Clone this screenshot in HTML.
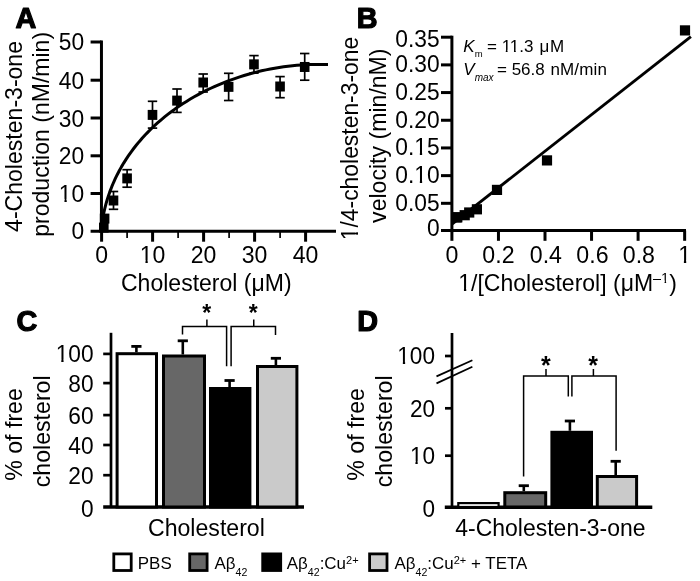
<!DOCTYPE html>
<html><head><meta charset="utf-8"><title>Figure</title>
<style>
html,body{margin:0;padding:0;background:#fff;}
svg{display:block;font-family:"Liberation Sans", sans-serif;fill:#000;}
</style></head><body>
<svg width="700" height="581" viewBox="0 0 700 581">
<rect x="0" y="0" width="700" height="581" fill="#fff"/>
<text x="15.4" y="27.75" font-size="28.8" font-weight="bold" stroke="#000" stroke-width="1.2" stroke-linejoin="round">A</text>
<text x="356.65" y="27.75" font-size="28.8" font-weight="bold" stroke="#000" stroke-width="1.2" stroke-linejoin="round">B</text>
<text x="16.6" y="330.9" font-size="28.8" font-weight="bold" stroke="#000" stroke-width="1.2" stroke-linejoin="round">C</text>
<text x="357.2" y="330.7" font-size="28.8" font-weight="bold" stroke="#000" stroke-width="1.2" stroke-linejoin="round">D</text>
<line x1="101.45" y1="40.5" x2="101.45" y2="232.7" stroke="#000" stroke-width="3" />
<text transform="translate(84.2 239.3) scale(0.95 1)" font-size="24" text-anchor="end" >0</text>
<line x1="90.6" y1="193.5" x2="101.45" y2="193.5" stroke="#000" stroke-width="3" />
<text transform="translate(84.2 201.7) scale(0.95 1)" font-size="24" text-anchor="end" >10</text>
<line x1="90.6" y1="155.8" x2="101.45" y2="155.8" stroke="#000" stroke-width="3" />
<text transform="translate(84.2 164.4) scale(0.95 1)" font-size="24" text-anchor="end" >20</text>
<line x1="90.6" y1="118" x2="101.45" y2="118" stroke="#000" stroke-width="3" />
<text transform="translate(84.2 126.6) scale(0.95 1)" font-size="24" text-anchor="end" >30</text>
<line x1="90.6" y1="80.2" x2="101.45" y2="80.2" stroke="#000" stroke-width="3" />
<text transform="translate(84.2 88.8) scale(0.95 1)" font-size="24" text-anchor="end" >40</text>
<line x1="90.6" y1="42" x2="101.45" y2="42" stroke="#000" stroke-width="3" />
<text transform="translate(84.2 50) scale(0.95 1)" font-size="24" text-anchor="end" >50</text>
<line x1="90.6" y1="231.2" x2="336" y2="231.2" stroke="#000" stroke-width="3" />
<line x1="101.6" y1="231.2" x2="101.6" y2="241.7" stroke="#000" stroke-width="3" />
<text transform="translate(101.6 263.1) scale(0.96 1)" font-size="24" text-anchor="middle" >0</text>
<line x1="127.1" y1="231.2" x2="127.1" y2="238" stroke="#000" stroke-width="1.7" />
<line x1="152.6" y1="231.2" x2="152.6" y2="241.7" stroke="#000" stroke-width="3" />
<text transform="translate(152.6 263.1) scale(0.96 1)" font-size="24" text-anchor="middle" >10</text>
<line x1="178.1" y1="231.2" x2="178.1" y2="238" stroke="#000" stroke-width="1.7" />
<line x1="203.6" y1="231.2" x2="203.6" y2="241.7" stroke="#000" stroke-width="3" />
<text transform="translate(203.6 263.1) scale(0.96 1)" font-size="24" text-anchor="middle" >20</text>
<line x1="229.1" y1="231.2" x2="229.1" y2="238" stroke="#000" stroke-width="1.7" />
<line x1="254.6" y1="231.2" x2="254.6" y2="241.7" stroke="#000" stroke-width="3" />
<text transform="translate(254.6 263.1) scale(0.96 1)" font-size="24" text-anchor="middle" >30</text>
<line x1="280.1" y1="231.2" x2="280.1" y2="238" stroke="#000" stroke-width="1.7" />
<line x1="305.6" y1="231.2" x2="305.6" y2="241.7" stroke="#000" stroke-width="3" />
<text transform="translate(305.6 263.1) scale(0.96 1)" font-size="24" text-anchor="middle" >40</text>
<text transform="translate(121 290.7) scale(0.976 1)" font-size="23.6" text-anchor="start" >Cholesterol (μM)</text>
<text transform="translate(22.2 136.45) rotate(-90) scale(1.003 1)" font-size="23" text-anchor="middle" >4-Cholesten-3-one</text>
<text transform="translate(49.3 134.35) rotate(-90) scale(1.002 1)" font-size="23" text-anchor="middle" >production (nM/min)</text>
<polyline points="101.6,231.0 101.44,227.08 102.07,222.36 102.84,217.71 103.74,213.12 104.76,208.59 105.91,204.13 107.18,199.73 108.56,195.4 110.07,191.13 111.69,186.92 113.42,182.78 115.26,178.71 117.21,174.7 119.26,170.76 121.42,166.88 123.68,163.08 126.03,159.33 128.49,155.66 131.03,152.06 133.67,148.52 136.4,145.05 139.22,141.65 142.12,138.31 145.1,135.05 148.16,131.86 151.3,128.74 154.52,125.68 157.81,122.7 161.17,119.79 164.6,116.95 168.09,114.18 171.65,111.48 175.27,108.85 178.95,106.3 182.69,103.82 186.49,101.41 190.33,99.07 194.23,96.81 198.17,94.62 202.16,92.5 206.19,90.46 210.27,88.5 214.38,86.61 218.53,84.79 222.71,83.05 226.93,81.39 231.17,79.8 235.45,78.29 239.75,76.85 244.07,75.49 248.41,74.21 252.77,73.01 257.14,71.88 261.53,70.83 265.93,69.86 270.34,68.97 274.75,68.16 279.17,67.43 283.59,66.77 288.02,66.2 292.44,65.71 296.85,65.3 301.26,64.97 305.65,64.72 310.04,64.55 314.41,64.46 318.77,64.46 323.11,64.53 328.0,64.5" fill="none" stroke="#000" stroke-width="3" stroke-linejoin="round"/>
<rect x="99" y="222.6" width="9.6" height="10" fill="#000"/>
<rect x="99.8" y="213.6" width="9.6" height="10" fill="#000"/>
<line x1="113.5" y1="191.5" x2="113.5" y2="209.3" stroke="#000" stroke-width="1.7" />
<line x1="108.8" y1="191.5" x2="118.2" y2="191.5" stroke="#000" stroke-width="1.7" />
<line x1="108.8" y1="209.3" x2="118.2" y2="209.3" stroke="#000" stroke-width="1.7" />
<rect x="108.7" y="195.5" width="9.6" height="10" fill="#000"/>
<line x1="127.1" y1="169.7" x2="127.1" y2="187.2" stroke="#000" stroke-width="1.7" />
<line x1="122.4" y1="169.7" x2="131.8" y2="169.7" stroke="#000" stroke-width="1.7" />
<line x1="122.4" y1="187.2" x2="131.8" y2="187.2" stroke="#000" stroke-width="1.7" />
<rect x="122.3" y="173.4" width="9.6" height="10" fill="#000"/>
<line x1="152.5" y1="101.3" x2="152.5" y2="128.1" stroke="#000" stroke-width="1.7" />
<line x1="147.8" y1="101.3" x2="157.2" y2="101.3" stroke="#000" stroke-width="1.7" />
<line x1="147.8" y1="128.1" x2="157.2" y2="128.1" stroke="#000" stroke-width="1.7" />
<rect x="147.7" y="109.9" width="9.6" height="10" fill="#000"/>
<line x1="177" y1="89" x2="177" y2="112.4" stroke="#000" stroke-width="1.7" />
<line x1="172.3" y1="89" x2="181.7" y2="89" stroke="#000" stroke-width="1.7" />
<line x1="172.3" y1="112.4" x2="181.7" y2="112.4" stroke="#000" stroke-width="1.7" />
<rect x="172.2" y="95.6" width="9.6" height="10" fill="#000"/>
<line x1="203.2" y1="74" x2="203.2" y2="92" stroke="#000" stroke-width="1.7" />
<line x1="198.5" y1="74" x2="207.9" y2="74" stroke="#000" stroke-width="1.7" />
<line x1="198.5" y1="92" x2="207.9" y2="92" stroke="#000" stroke-width="1.7" />
<rect x="198.4" y="77.5" width="9.6" height="10" fill="#000"/>
<line x1="228.65" y1="73.3" x2="228.65" y2="100.5" stroke="#000" stroke-width="1.7" />
<line x1="223.95" y1="73.3" x2="233.35" y2="73.3" stroke="#000" stroke-width="1.7" />
<line x1="223.95" y1="100.5" x2="233.35" y2="100.5" stroke="#000" stroke-width="1.7" />
<rect x="223.85" y="81.85" width="9.6" height="10" fill="#000"/>
<line x1="253.97" y1="55.6" x2="253.97" y2="73.1" stroke="#000" stroke-width="1.7" />
<line x1="249.27" y1="55.6" x2="258.67" y2="55.6" stroke="#000" stroke-width="1.7" />
<line x1="249.27" y1="73.1" x2="258.67" y2="73.1" stroke="#000" stroke-width="1.7" />
<rect x="249.17" y="59.35" width="9.6" height="10" fill="#000"/>
<line x1="280.06" y1="76.6" x2="280.06" y2="97.7" stroke="#000" stroke-width="1.7" />
<line x1="275.36" y1="76.6" x2="284.76" y2="76.6" stroke="#000" stroke-width="1.7" />
<line x1="275.36" y1="97.7" x2="284.76" y2="97.7" stroke="#000" stroke-width="1.7" />
<rect x="275.26" y="81.5" width="9.6" height="10" fill="#000"/>
<line x1="304.7" y1="53.5" x2="304.7" y2="80.2" stroke="#000" stroke-width="1.7" />
<line x1="300" y1="53.5" x2="309.4" y2="53.5" stroke="#000" stroke-width="1.7" />
<line x1="300" y1="80.2" x2="309.4" y2="80.2" stroke="#000" stroke-width="1.7" />
<rect x="299.9" y="61.97" width="9.6" height="10" fill="#000"/>
<line x1="451.9" y1="35.7" x2="451.9" y2="232.1" stroke="#000" stroke-width="3" />
<text transform="translate(439.6 235.8) scale(0.95 1)" font-size="24" text-anchor="end" >0</text>
<line x1="441" y1="203.31" x2="451.9" y2="203.31" stroke="#000" stroke-width="3" />
<text transform="translate(439.6 210.9) scale(0.95 1)" font-size="24" text-anchor="end" >0.05</text>
<line x1="441" y1="175.63" x2="451.9" y2="175.63" stroke="#000" stroke-width="3" />
<text transform="translate(439.6 183.1) scale(0.95 1)" font-size="24" text-anchor="end" >0.10</text>
<line x1="441" y1="147.94" x2="451.9" y2="147.94" stroke="#000" stroke-width="3" />
<text transform="translate(439.6 155.3) scale(0.95 1)" font-size="24" text-anchor="end" >0.15</text>
<line x1="441" y1="120.26" x2="451.9" y2="120.26" stroke="#000" stroke-width="3" />
<text transform="translate(439.6 127.7) scale(0.95 1)" font-size="24" text-anchor="end" >0.20</text>
<line x1="441" y1="92.57" x2="451.9" y2="92.57" stroke="#000" stroke-width="3" />
<text transform="translate(439.6 100) scale(0.95 1)" font-size="24" text-anchor="end" >0.25</text>
<line x1="441" y1="64.89" x2="451.9" y2="64.89" stroke="#000" stroke-width="3" />
<text transform="translate(439.6 72.3) scale(0.95 1)" font-size="24" text-anchor="end" >0.30</text>
<line x1="441" y1="37.2" x2="451.9" y2="37.2" stroke="#000" stroke-width="3" />
<text transform="translate(439.6 46.5) scale(0.95 1)" font-size="24" text-anchor="end" >0.35</text>
<line x1="441" y1="230.6" x2="686" y2="230.6" stroke="#000" stroke-width="3" />
<line x1="451.9" y1="230.6" x2="451.9" y2="240.8" stroke="#000" stroke-width="3" />
<text transform="translate(451.9 263.1) scale(0.965 1)" font-size="24" text-anchor="middle" >0</text>
<line x1="498.45" y1="230.6" x2="498.45" y2="240.8" stroke="#000" stroke-width="3" />
<text transform="translate(498.45 263.1) scale(0.965 1)" font-size="24" text-anchor="middle" >0.2</text>
<line x1="545" y1="230.6" x2="545" y2="240.8" stroke="#000" stroke-width="3" />
<text transform="translate(545.9 263.1) scale(0.965 1)" font-size="24" text-anchor="middle" >0.4</text>
<line x1="591.55" y1="230.6" x2="591.55" y2="240.8" stroke="#000" stroke-width="3" />
<text transform="translate(592.45 263.1) scale(0.965 1)" font-size="24" text-anchor="middle" >0.6</text>
<line x1="638.1" y1="230.6" x2="638.1" y2="240.8" stroke="#000" stroke-width="3" />
<text transform="translate(638.9 263.1) scale(0.965 1)" font-size="24" text-anchor="middle" >0.8</text>
<line x1="684.65" y1="230.6" x2="684.65" y2="240.8" stroke="#000" stroke-width="3" />
<text transform="translate(684.65 263.1) scale(0.965 1)" font-size="24" text-anchor="middle" >1</text>
<text transform="translate(458.3 290.7) scale(0.975 1)" font-size="23.6">1/[Cholesterol] (μM<tspan font-size="14.8" dy="-8.2">–1</tspan><tspan dy="8.2">)</tspan></text>
<text transform="translate(357.8 138.5) rotate(-90) scale(0.995 1)" font-size="23" text-anchor="middle" >1/4-cholesten-3-one</text>
<text transform="translate(385.6 135.7) rotate(-90) scale(1.004 1)" font-size="23" text-anchor="middle" >velocity (min/nM)</text>
<line x1="452" y1="224.2" x2="690.9" y2="36.7" stroke="#000" stroke-width="2.9" />
<rect x="451.5" y="212.3" width="10.2" height="10.2" fill="#000"/>
<rect x="452.2" y="212.2" width="10.2" height="10.2" fill="#000"/>
<rect x="459.6" y="210.1" width="10.2" height="10.2" fill="#000"/>
<rect x="464.1" y="207.4" width="10.2" height="10.2" fill="#000"/>
<rect x="471.8" y="204.2" width="10.2" height="10.2" fill="#000"/>
<rect x="491.9" y="184.8" width="10.2" height="10.2" fill="#000"/>
<rect x="541.9" y="155.3" width="10.2" height="10.2" fill="#000"/>
<rect x="679.9" y="25.3" width="10.2" height="10.2" fill="#000"/>
<text x="463.3" y="52.1" font-size="17"><tspan font-style="italic">K</tspan><tspan font-size="9.5" dy="5">m</tspan><tspan dy="-5" x="487">= 11.3 </tspan><tspan x="539.6" letter-spacing="0.7">μM</tspan></text>
<text x="463.3" y="74.5" font-size="17"><tspan font-style="italic">V</tspan><tspan font-size="10" font-style="italic" dy="6">max</tspan><tspan dy="-6" x="497">= 56.8 </tspan><tspan x="550.5" letter-spacing="0.12">nM/min</tspan></text>
<line x1="111" y1="332.8" x2="111" y2="507" stroke="#000" stroke-width="2.7" />
<text transform="translate(93.6 516.5) scale(0.975 1)" font-size="23.3" text-anchor="end" >0</text>
<line x1="103.2" y1="475.2" x2="111" y2="475.2" stroke="#000" stroke-width="2.7" />
<text transform="translate(93.6 483.7) scale(0.975 1)" font-size="23.3" text-anchor="end" >20</text>
<line x1="103.2" y1="445" x2="111" y2="445" stroke="#000" stroke-width="2.7" />
<text transform="translate(93.6 453.5) scale(0.975 1)" font-size="23.3" text-anchor="end" >40</text>
<line x1="103.2" y1="415.1" x2="111" y2="415.1" stroke="#000" stroke-width="2.7" />
<text transform="translate(93.6 423.6) scale(0.975 1)" font-size="23.3" text-anchor="end" >60</text>
<line x1="103.2" y1="383.1" x2="111" y2="383.1" stroke="#000" stroke-width="2.7" />
<text transform="translate(93.6 391.6) scale(0.975 1)" font-size="23.3" text-anchor="end" >80</text>
<line x1="103.2" y1="353.9" x2="111" y2="353.9" stroke="#000" stroke-width="2.7" />
<text transform="translate(93.6 362.4) scale(0.975 1)" font-size="23.3" text-anchor="end" >100</text>
<line x1="103.2" y1="507" x2="304" y2="507" stroke="#000" stroke-width="3.4" />
<rect x="117.1" y="353.7" width="39.4" height="153.3" fill="#fff" stroke="#000" stroke-width="3"/>
<line x1="136.4" y1="346.4" x2="136.4" y2="352.2" stroke="#000" stroke-width="2.6" />
<line x1="131.3" y1="346.4" x2="141.5" y2="346.4" stroke="#000" stroke-width="2.8" />
<rect x="163.5" y="356" width="41" height="151" fill="#676767" stroke="#000" stroke-width="3"/>
<line x1="182.8" y1="340.8" x2="182.8" y2="354.5" stroke="#000" stroke-width="2.6" />
<line x1="177.7" y1="340.8" x2="187.9" y2="340.8" stroke="#000" stroke-width="2.8" />
<rect x="210.5" y="388.5" width="39.4" height="118.5" fill="#000" stroke="#000" stroke-width="3"/>
<line x1="229.6" y1="380.5" x2="229.6" y2="387" stroke="#000" stroke-width="2.6" />
<line x1="224.5" y1="380.5" x2="234.7" y2="380.5" stroke="#000" stroke-width="2.8" />
<rect x="257.5" y="366.5" width="39.4" height="140.5" fill="#cacaca" stroke="#000" stroke-width="3"/>
<line x1="275.9" y1="358.3" x2="275.9" y2="365" stroke="#000" stroke-width="2.6" />
<line x1="270.8" y1="358.3" x2="281" y2="358.3" stroke="#000" stroke-width="2.8" />
<text transform="translate(148 535.6) scale(1.0 1)" font-size="23.1" text-anchor="start" >Cholesterol</text>
<text transform="translate(22.2 434.5) rotate(-90) scale(1.008 1)" font-size="23" text-anchor="middle" >% of free</text>
<text transform="translate(49.5 431.3) rotate(-90) scale(1.006 1)" font-size="23" text-anchor="middle" >cholesterol</text>
<polyline points="182.5,334.5 182.5,326.4 226.6,326.4 226.6,366.3" fill="none" stroke="#000" stroke-width="1.5"/>
<polyline points="231.1,366.3 231.1,326.4 275.5,326.4 275.5,335" fill="none" stroke="#000" stroke-width="1.5"/>
<line x1="206.9" y1="326.4" x2="206.9" y2="319.6" stroke="#000" stroke-width="1.5" />
<line x1="253.75" y1="326.4" x2="253.75" y2="319.6" stroke="#000" stroke-width="1.5" />
<text x="206.8" y="321.3" font-size="23" font-weight="bold" text-anchor="middle">*</text>
<text x="253.3" y="321.3" font-size="23" font-weight="bold" text-anchor="middle">*</text>
<line x1="452" y1="333" x2="452" y2="507" stroke="#000" stroke-width="2.7" />
<line x1="445" y1="356" x2="452" y2="356" stroke="#000" stroke-width="2.7" />
<text transform="translate(435 364.3) scale(0.97 1)" font-size="23.3" text-anchor="end" >100</text>
<line x1="445" y1="408.3" x2="452" y2="408.3" stroke="#000" stroke-width="2.7" />
<text transform="translate(435 416.6) scale(0.97 1)" font-size="23.3" text-anchor="end" >20</text>
<line x1="445" y1="455.7" x2="452" y2="455.7" stroke="#000" stroke-width="2.7" />
<text transform="translate(435 464) scale(0.97 1)" font-size="23.3" text-anchor="end" >10</text>
<text transform="translate(435 516.7) scale(0.97 1)" font-size="23.3" text-anchor="end" >0</text>
<line x1="444.8" y1="507.2" x2="652.3" y2="507.2" stroke="#000" stroke-width="3.4" />
<line x1="436.5" y1="376.4" x2="472.4" y2="360.2" stroke="#000" stroke-width="1.8" />
<line x1="436.5" y1="383.4" x2="472.4" y2="366.7" stroke="#000" stroke-width="1.8" />
<rect x="458.3" y="503.1" width="40.3" height="3.9" fill="#fff" stroke="#000" stroke-width="2.2"/>
<rect x="504.8" y="492.7" width="40.9" height="14.3" fill="#676767" stroke="#000" stroke-width="3"/>
<line x1="523.8" y1="485.7" x2="523.8" y2="491.2" stroke="#000" stroke-width="2.6" />
<line x1="518.7" y1="485.7" x2="528.9" y2="485.7" stroke="#000" stroke-width="2.8" />
<rect x="551.9" y="432.3" width="39.6" height="74.7" fill="#000" stroke="#000" stroke-width="3"/>
<line x1="569.9" y1="421" x2="569.9" y2="430.8" stroke="#000" stroke-width="2.6" />
<line x1="564.8" y1="421" x2="575" y2="421" stroke="#000" stroke-width="2.8" />
<rect x="597.3" y="476.5" width="39.3" height="30.5" fill="#cacaca" stroke="#000" stroke-width="3"/>
<line x1="615.7" y1="461.3" x2="615.7" y2="475" stroke="#000" stroke-width="2.6" />
<line x1="610.6" y1="461.3" x2="620.8" y2="461.3" stroke="#000" stroke-width="2.8" />
<text transform="translate(455.3 535.6) scale(0.995 1)" font-size="23.1" text-anchor="start" >4-Cholesten-3-one</text>
<text transform="translate(364.3 434.4) rotate(-90) scale(1.008 1)" font-size="23" text-anchor="middle" >% of free</text>
<text transform="translate(391.5 431.3) rotate(-90) scale(1.006 1)" font-size="23" text-anchor="middle" >cholesterol</text>
<polyline points="523.6,476.5 523.6,376 568.3,376 568.3,396.4" fill="none" stroke="#000" stroke-width="1.5"/>
<polyline points="571.9,396.4 571.9,376 616.1,376 616.1,450.7" fill="none" stroke="#000" stroke-width="1.5"/>
<line x1="546" y1="376" x2="546" y2="369" stroke="#000" stroke-width="1.5" />
<line x1="593.4" y1="376" x2="593.4" y2="369" stroke="#000" stroke-width="1.5" />
<text x="545.85" y="373.9" font-size="25" font-weight="bold" text-anchor="middle">*</text>
<text x="593.2" y="373.9" font-size="25" font-weight="bold" text-anchor="middle">*</text>
<rect x="113.8" y="553.9" width="17.4" height="16.599999999999998" fill="#fff" stroke="#000" stroke-width="2.8"/>
<text transform="translate(137.8 569.3) scale(1.06 1)" font-size="16">PBS</text>
<rect x="189.7" y="553.9" width="17.4" height="16.599999999999998" fill="#676767" stroke="#000" stroke-width="2.8"/>
<text transform="translate(214.5 569.3) scale(1.06 1)" font-size="16">Aβ<tspan font-size="10" dy="6.4">42</tspan></text>
<rect x="262.7" y="553.9" width="18.0" height="16.599999999999998" fill="#000" stroke="#000" stroke-width="2.8"/>
<text transform="translate(286.8 569.3) scale(1.06 1)" font-size="16">Aβ<tspan font-size="10" dy="6.4">42</tspan><tspan dy="-6.4">:Cu</tspan><tspan font-size="10.4" dy="-5.3">2+</tspan></text>
<rect x="369.6" y="553.9" width="17.4" height="16.599999999999998" fill="#cacaca" stroke="#000" stroke-width="2.8"/>
<text transform="translate(394.5 569.3) scale(1.06 1)" font-size="16">Aβ<tspan font-size="10" dy="6.4">42</tspan><tspan dy="-6.4">:Cu</tspan><tspan font-size="10.4" dy="-5.3">2+</tspan><tspan dy="5.3"> + TETA</tspan></text>
<g class="ft">
<rect transform="translate(84.2 201.7) scale(0.95 1)" x="-25.96" y="-2.79" width="5.16" height="3.99" fill="#fff"/>
<rect transform="translate(84.2 201.7) scale(0.95 1)" x="-18.38" y="-2.79" width="4.87" height="3.99" fill="#fff"/>
<rect transform="translate(152.6 263.1) scale(0.96 1)" x="-12.62" y="-2.79" width="5.16" height="3.99" fill="#fff"/>
<rect transform="translate(152.6 263.1) scale(0.96 1)" x="-5.04" y="-2.79" width="4.87" height="3.99" fill="#fff"/>
<rect transform="translate(439.6 183.1) scale(0.95 1)" x="-25.96" y="-2.79" width="5.16" height="3.99" fill="#fff"/>
<rect transform="translate(439.6 183.1) scale(0.95 1)" x="-18.38" y="-2.79" width="4.87" height="3.99" fill="#fff"/>
<rect transform="translate(439.6 155.3) scale(0.95 1)" x="-25.96" y="-2.79" width="5.16" height="3.99" fill="#fff"/>
<rect transform="translate(439.6 155.3) scale(0.95 1)" x="-18.38" y="-2.79" width="4.87" height="3.99" fill="#fff"/>
<rect transform="translate(684.65 263.1) scale(0.965 1)" x="-5.95" y="-2.79" width="5.16" height="3.99" fill="#fff"/>
<rect transform="translate(684.65 263.1) scale(0.965 1)" x="1.63" y="-2.79" width="4.87" height="3.99" fill="#fff"/>
<rect transform="translate(458.3 290.7) scale(0.975 1)" x="0.70" y="-2.76" width="5.09" height="3.96" fill="#fff"/>
<rect transform="translate(458.3 290.7) scale(0.975 1)" x="8.17" y="-2.76" width="4.80" height="3.96" fill="#fff"/>
<rect transform="translate(458.3 290.7) scale(0.975 1)" x="208.02" y="-10.31" width="3.54" height="3.31" fill="#fff"/>
<rect transform="translate(458.3 290.7) scale(0.975 1)" x="213.17" y="-10.31" width="3.33" height="3.31" fill="#fff"/>
<rect transform="translate(357.8 138.5) rotate(-90) scale(0.995 1)" x="-101.62" y="-2.72" width="4.98" height="3.92" fill="#fff"/>
<rect transform="translate(357.8 138.5) rotate(-90) scale(0.995 1)" x="-94.30" y="-2.72" width="4.70" height="3.92" fill="#fff"/>
<rect x="501.84" y="49.83" width="3.93" height="3.47" fill="#fff"/>
<rect x="507.57" y="49.83" width="3.70" height="3.47" fill="#fff"/>
<rect x="510.04" y="49.83" width="3.93" height="3.47" fill="#fff"/>
<rect x="515.77" y="49.83" width="3.70" height="3.47" fill="#fff"/>
<rect transform="translate(93.6 362.4) scale(0.975 1)" x="-38.18" y="-2.74" width="5.03" height="3.94" fill="#fff"/>
<rect transform="translate(93.6 362.4) scale(0.975 1)" x="-30.79" y="-2.74" width="4.75" height="3.94" fill="#fff"/>
<rect transform="translate(435 364.3) scale(0.97 1)" x="-38.18" y="-2.74" width="5.03" height="3.94" fill="#fff"/>
<rect transform="translate(435 364.3) scale(0.97 1)" x="-30.79" y="-2.74" width="4.75" height="3.94" fill="#fff"/>
<rect transform="translate(435 464) scale(0.97 1)" x="-25.23" y="-2.74" width="5.03" height="3.94" fill="#fff"/>
<rect transform="translate(435 464) scale(0.97 1)" x="-17.83" y="-2.74" width="4.75" height="3.94" fill="#fff"/>
</g>
</svg>
</body></html>
